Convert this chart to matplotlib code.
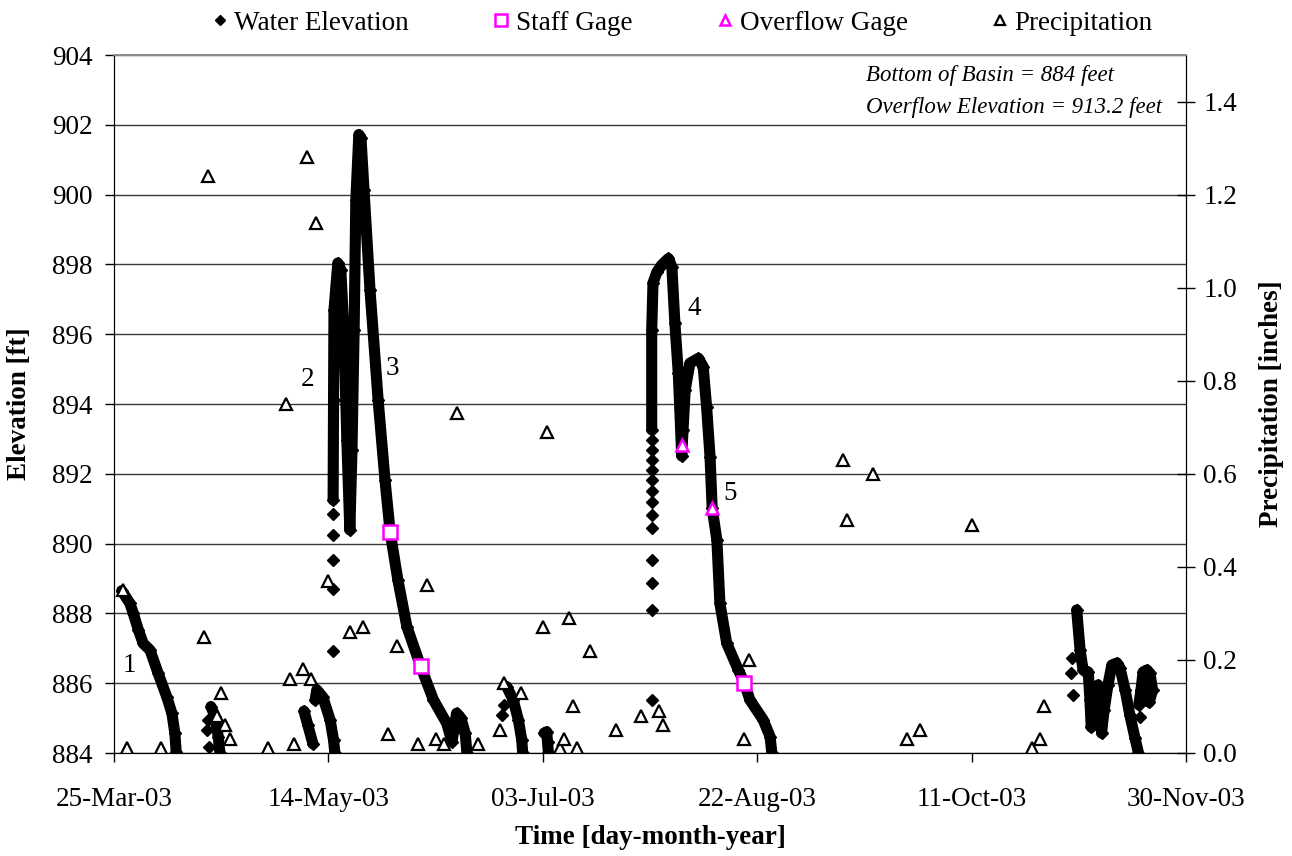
import numpy as np
import matplotlib
matplotlib.use('Agg')
import matplotlib.pyplot as plt
import matplotlib.dates as mdates
from matplotlib.lines import Line2D
from datetime import datetime

plt.rcParams['font.family'] = ['Liberation Serif', 'DejaVu Serif']

# x values are days after 25-Mar-03
t0 = mdates.date2num(datetime(2003, 3, 25))

# Water elevation record, continuous runs (ft)
run1_day = [1.8, 3.7, 4.5, 5.7, 6.8, 8.4, 10.3, 12.3, 13.5, 14.2, 14.5]
run1_ft = [888.65, 888.29, 888.00, 887.52, 887.14, 886.95, 886.28, 885.61, 885.14, 884.56, 884.03]
run2_day = [22.6, 23.6, 24.3, 24.7]
run2_ft = [885.33, 885.04, 884.47, 884.01]
run3_day = [44.3, 45.2, 46.4]
run3_ft = [885.20, 884.80, 884.26]
run4_day = [46.9, 47.3, 48.7, 50.4, 51.2, 51.5]
run4_ft = [885.52, 885.81, 885.60, 884.95, 884.37, 884.01]
run5_day = [51.1, 51.2, 51.3, 52.2, 52.9, 53.6, 54.3, 55.0, 55.5, 56.0, 56.4, 57.1, 57.6,
            58.3, 59.7, 61.6, 63.2, 64.4, 66.2, 68.3, 71.5, 74.5, 77.6, 78.8, 79.9, 80.9,
            81.9, 82.3]
run5_ft = [891.25, 894.11, 896.69, 898.04, 897.84, 896.12, 892.97, 890.39, 892.68, 896.12,
           899.85, 901.72, 901.62, 900.13, 897.27, 894.11, 891.82, 890.33, 888.96, 887.62,
           886.49, 885.52, 884.85, 884.32, 885.14, 885.00, 884.57, 884.01]
run6_day = [91.6, 93.1, 94.3, 95.1, 95.3]
run6_ft = [885.90, 885.52, 884.95, 884.37, 884.01]
run7_day = [100.3, 100.9, 101.1, 101.3]
run7_ft = [884.57, 884.61, 884.32, 884.01]
run8_day = [125.4, 125.4, 125.7, 126.6, 127.7, 129.3, 130.1, 130.8, 131.6, 132.4, 132.7,
            133.2, 134.3, 136.3, 137.4, 138.2, 139.0, 139.5, 140.6, 141.3, 142.9, 145.6,
            147.0, 148.3, 151.4, 153.0, 153.4]
run8_ft = [893.26, 896.12, 897.47, 897.78, 897.98, 898.17, 897.93, 896.32, 894.88, 892.51,
           893.25, 894.40, 895.17, 895.31, 895.07, 893.92, 892.49, 891.01, 890.10, 888.29,
           887.14, 886.38, 886.01, 885.52, 884.95, 884.47, 884.01]
run9_day = [224.5, 225.3, 226.0, 227.2, 227.6, 227.9, 228.5, 229.5, 229.9, 230.3, 230.9,
            231.8, 232.7, 233.9, 234.6, 235.8, 236.9, 238.1, 238.9]
run9_ft = [888.10, 886.95, 886.38, 886.32, 885.52, 884.74, 885.52, 885.95, 885.52, 884.57,
           885.23, 885.95, 886.52, 886.58, 886.44, 885.81, 885.09, 884.43, 884.01]
run10_day = [239.0, 239.5, 240.0, 240.9, 241.6, 242.2, 241.4]
run10_ft = [885.38, 885.81, 886.32, 886.38, 886.28, 885.80, 885.45]

# Water elevation, isolated readings (ft)
pts_day = [22.0, 21.8, 22.2,
           51.1, 51.1, 51.1, 51.1, 51.1,
           90.5, 91.0,
           125.4, 125.4, 125.4, 125.4, 125.4, 125.4, 125.4, 125.4, 125.4, 125.4, 125.4,
           125.4, 125.4,
           223.3, 223.1, 223.7, 239.3]
pts_ft = [884.95, 884.66, 884.16,
          886.93, 888.69, 889.53, 890.25, 890.85,
          885.09, 885.38,
          885.52, 888.10, 888.86, 889.53, 890.44, 890.82, 891.18, 891.52, 891.82, 892.11,
          892.40, 892.68, 892.97,
          886.71, 886.28, 885.66, 885.04]

# Staff gage and overflow gage readings (ft)
staff_day = [64.4, 71.5, 147.0]
staff_ft = [890.33, 886.49, 886.01]
overflow_day = [132.4, 139.5]
overflow_ft = [892.83, 891.01]

# Daily precipitation (inches)
precip_day = [2, 3, 11, 21, 22, 24, 25, 26, 27, 36,
              40, 41, 42, 44, 45, 46, 47, 50, 55, 58,
              64, 66, 71, 73, 75, 77, 80, 85, 90, 91,
              95, 100, 101, 104, 105, 106, 107, 108, 111, 117,
              123, 127, 128, 147, 148, 170, 171, 177, 185, 188,
              200, 214, 216, 217]
precip_in = [0.35, 0.01, 0.01, 0.25, 1.24, 0.08, 0.13, 0.06, 0.03, 0.01,
             0.75, 0.16, 0.02, 0.18, 1.28, 0.16, 1.14, 0.37, 0.26, 0.27,
             0.04, 0.23, 0.02, 0.36, 0.03, 0.02, 0.73, 0.02, 0.05, 0.15,
             0.13, 0.27, 0.69, 0.01, 0.03, 0.29, 0.10, 0.01, 0.22, 0.05,
             0.08, 0.09, 0.06, 0.03, 0.20, 0.63, 0.50, 0.60, 0.03, 0.05,
             0.49, 0.01, 0.03, 0.10]

# event labels
event_labels = ['1', '2', '3', '4', '5']
event_day = [3.6, 45.1, 64.9, 135.3, 143.8]
event_ft = [886.52, 894.69, 895.02, 896.74, 891.44]

runs = [(run1_day, run1_ft), (run2_day, run2_ft), (run3_day, run3_ft),
        (run4_day, run4_ft), (run5_day, run5_ft), (run6_day, run6_ft),
        (run7_day, run7_ft), (run8_day, run8_ft), (run9_day, run9_ft),
        (run10_day, run10_ft)]

fs = 19.5
fig = plt.figure(figsize=(12.92, 8.56), dpi=100)
ax = fig.add_axes([114/1292, 103/856, 1072/1292, 698/856])
ax2 = ax.twinx()

for d, f in runs:
    ax.plot(t0 + np.array(d), f, color='k', lw=8, solid_joinstyle='round',
            solid_capstyle='round', marker='D', ms=6.5, zorder=3)
ax.plot(t0 + np.array(pts_day), pts_ft, 'kD', ms=6, zorder=3)
ax.plot(t0 + np.array(staff_day), staff_ft, 's', ms=10, mfc='white', mec='#ff00ff',
        mew=1.8, zorder=4)
ax.plot(t0 + np.array(overflow_day), overflow_ft, '^', ms=8, mfc='white', mec='#ff00ff',
        mew=1.8, zorder=4)

ax2.plot(t0 + np.array(precip_day), precip_in, '^', ms=8, mfc='white', mec='k',
         mew=1.6, ls='none')

for lab, d, f in zip(event_labels, event_day, event_ft):
    ax.text(t0 + d, f, lab, fontsize=fs, ha='center', va='center', zorder=5)

ax.set_xlim(t0, t0 + 250)
ax.set_ylim(884, 904)
ax2.set_ylim(0, 1.5)
ax.set_xticks(t0 + np.arange(0, 251, 50))
ax.xaxis.set_major_formatter(mdates.DateFormatter('%d-%b-%y'))
ax.set_yticks(np.arange(884, 905, 2))
ax2.set_yticks(np.arange(0, 1.41, 0.2))
ax2.set_yticklabels([f'{v:.1f}' for v in np.arange(0, 1.41, 0.2)])

ax.yaxis.grid(True, color='#3a3a3a', lw=1.0)
ax.set_axisbelow(True)
ax.tick_params(axis='y', direction='out', length=6.5, width=1, labelsize=fs, pad=9)
ax.tick_params(axis='x', direction='out', length=6.5, width=1, labelsize=fs, pad=18)
ax2.tick_params(axis='y', direction='inout', length=13, width=1, labelsize=fs, pad=6)
for a in (ax, ax2):
    a.spines['top'].set_color('#8c8c8c')
    a.spines['top'].set_linewidth(1.2)

fig.text(20/1292, 1 - 404/856, 'Elevation [ft]', rotation=90, ha='center', va='center',
         fontsize=fs, fontweight='bold')
fig.text(1272/1292, 1 - 404/856, 'Precipitation [inches]', rotation=90, ha='center',
         va='center', fontsize=fs, fontweight='bold')
fig.text(650/1292, 1 - 838/856, 'Time [day-month-year]', ha='center', va='center',
         fontsize=fs, fontweight='bold')

fig.text(866/1292, 1 - 76/856, 'Bottom of Basin = 884 feet', ha='left', va='center',
         fontsize=16.5, style='italic')
fig.text(866/1292, 1 - 107/856, 'Overflow Elevation = 913.2 feet', ha='left', va='center',
         fontsize=16.5, style='italic')

handles = [
    Line2D([], [], ls='none', marker='D', ms=5.5, color='k'),
    Line2D([], [], ls='none', marker='s', ms=9, mfc='white', mec='#ff00ff', mew=1.8),
    Line2D([], [], ls='none', marker='^', ms=7, mfc='white', mec='#ff00ff', mew=1.8),
    Line2D([], [], ls='none', marker='^', ms=7, mfc='white', mec='k', mew=1.6),
]
labels = ['Water Elevation', 'Staff Gage', 'Overflow Gage', 'Precipitation']
fig.legend(handles, labels, loc='center', bbox_to_anchor=(682/1292, 1 - 23/856), ncol=4,
           frameon=False, fontsize=fs, handlelength=0.6, handletextpad=0.25,
           columnspacing=3.1, borderaxespad=0, borderpad=0)

fig.savefig('out.png', dpi=100)
